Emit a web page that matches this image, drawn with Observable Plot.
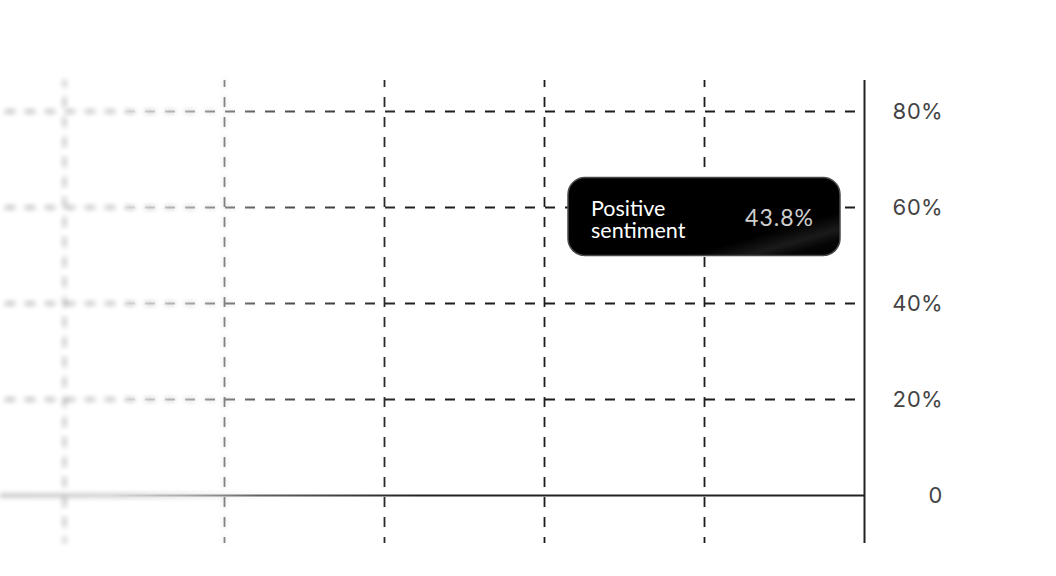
<!DOCTYPE html>
<html>
<head>
<meta charset="utf-8">
<script src="https://cdn.jsdelivr.net/npm/d3@7"></script>
<script src="https://cdn.jsdelivr.net/npm/@observablehq/plot@0.6"></script>
<style>
  html, body { margin: 0; padding: 0; background: #fff; }
  #chart svg { display: block; }
</style>
</head>
<body>
<div id="chart"></div>
<script>
// ---- data ----
const periods = [0, 1, 2, 3, 4];          // dashed vertical gridlines (periods)
const lastPeriod = [5];                    // solid right axis line
const yTicks = [0, 0.2, 0.4, 0.6, 0.8];
const gridValues = [0.2, 0.4, 0.6, 0.8];
const tooltipLabel = ["Positive", "sentiment"];
const tooltipValue = [0.438];
const tooltipAt = [{x: 4, y: 0.58}];

const W = 1056, H = 576;

function tooltipMark(index, scales) {
  const cx = scales.x(tooltipAt[0].x);
  const cy = scales.y(tooltipAt[0].y);
  const w = 272, h = 78;
  const left = cx - w / 2, top = cy - h / 2;
  const g = d3.create("svg:g").attr("text-anchor", "start");
  const defs = g.append("defs");
  const gl = defs.append("linearGradient").attr("id", "gloss")
    .attr("x1", "0").attr("y1", "0").attr("x2", "1").attr("y2", "1");
  gl.append("stop").attr("offset", "0.72").attr("stop-color", "#000");
  gl.append("stop").attr("offset", "0.83").attr("stop-color", "#1a1a1a");
  gl.append("stop").attr("offset", "0.90").attr("stop-color", "#050505");
  gl.append("stop").attr("offset", "1").attr("stop-color", "#000");
  g.append("rect")
    .attr("x", left).attr("y", top).attr("width", w).attr("height", h)
    .attr("rx", 17).attr("ry", 17)
    .attr("fill", "url(#gloss)")
    .attr("stroke", "#4a4a4a").attr("stroke-width", 1.5);
  tooltipLabel.forEach((s, i) => {
    g.append("text")
      .attr("text-anchor", "start")
      .attr("font-family", "Lato, 'Noto Sans', sans-serif")
      .attr("font-size", 21.5).attr("fill", "#fff")
      .attr("x", left + 23).attr("y", top + 38 + i * 22).text(s);
  });
  g.append("text")
    .attr("x", left + w - 26).attr("y", top + 48)
    .attr("text-anchor", "end")
    .attr("font-family", "Lato, 'Noto Sans', sans-serif")
    .attr("font-size", 23).attr("letter-spacing", 1).attr("fill", "#cfcfcf")
    .text(d3.format(".1%")(tooltipValue[0]));
  return g.node();
}

const chart = Plot.plot({
  width: W,
  height: H,
  marginLeft: 0,
  marginRight: 192,
  marginTop: 80,
  marginBottom: 33,
  style: {fontFamily: "Inter, sans-serif", background: "#fff"},
  x: {domain: [-0.4, 5], axis: null},
  y: {domain: [0, 0.8], range: [495, 111], axis: null},
  marks: [
    Plot.ruleY(gridValues, {stroke: "#1c1c1c", strokeWidth: 1.8, strokeDasharray: "10,10", strokeDashoffset: -5}),
    Plot.ruleX(periods, {stroke: "#1c1c1c", strokeWidth: 1.8, strokeDasharray: "10,10", strokeDashoffset: 3}),
    Plot.ruleY([0], {stroke: "#222", strokeWidth: 2}),
    Plot.ruleX(lastPeriod, {stroke: "#222", strokeWidth: 2}),
    Plot.axisY(yTicks, {
      anchor: "right", tickSize: 0, tickPadding: 78, textAnchor: "end",
      fontSize: 22, fill: "#444",
      tickFormat: d => d === 0 ? "0" : d3.format(".0%")(d)
    }),
    tooltipMark
  ]
});
document.getElementById("chart").appendChild(chart);

// ---- left-edge fade & blur of the gridlines ----
(function () {
  const svgNS = "http://www.w3.org/2000/svg";
  const svg = d3.select(chart);
  const defs = svg.insert("defs", ":first-child");
  function grad(id, stops) {
    const lg = defs.append("linearGradient").attr("id", id)
      .attr("gradientUnits", "userSpaceOnUse")
      .attr("x1", 0).attr("y1", 0).attr("x2", W).attr("y2", 0);
    stops.forEach(([x, a]) => lg.append("stop").attr("offset", x / W)
      .attr("stop-color", "#fff").attr("stop-opacity", a));
  }
  grad("gSharp", [[0, 0], [110, 0], [190, 0.35], [260, 0.72], [420, 1], [W, 1]]);
  grad("gBlur", [[0, 0.55], [120, 0.5], [190, 0.28], [270, 0], [W, 0]]);
  function mask(id, gid) {
    defs.append("mask").attr("id", id).attr("maskUnits", "userSpaceOnUse")
      .attr("x", -50).attr("y", -50).attr("width", W + 100).attr("height", H + 100)
      .append("rect").attr("x", -50).attr("y", -50).attr("width", W + 100).attr("height", H + 100)
      .attr("fill", `url(#${gid})`);
  }
  mask("mSharp", "gSharp");
  mask("mBlur", "gBlur");
  defs.append("filter").attr("id", "fBlur").attr("filterUnits", "userSpaceOnUse")
    .attr("x", -50).attr("y", -50).attr("width", W + 100).attr("height", H + 100)
    .append("feGaussianBlur").attr("stdDeviation", 2.6);

  const rules = Array.from(chart.querySelectorAll('g[aria-label^="rule"]'));
  if (!rules.length) return;
  const wrap = document.createElementNS(svgNS, "g");
  rules[0].parentNode.insertBefore(wrap, rules[0]);
  rules.forEach(n => wrap.appendChild(n));
  const blurOuter = document.createElementNS(svgNS, "g");
  blurOuter.setAttribute("mask", "url(#mBlur)");
  const blurInner = wrap.cloneNode(true);
  blurInner.setAttribute("filter", "url(#fBlur)");
  blurOuter.appendChild(blurInner);
  wrap.parentNode.insertBefore(blurOuter, wrap);
  wrap.setAttribute("mask", "url(#mSharp)");
})();
</script>
</body>
</html>
